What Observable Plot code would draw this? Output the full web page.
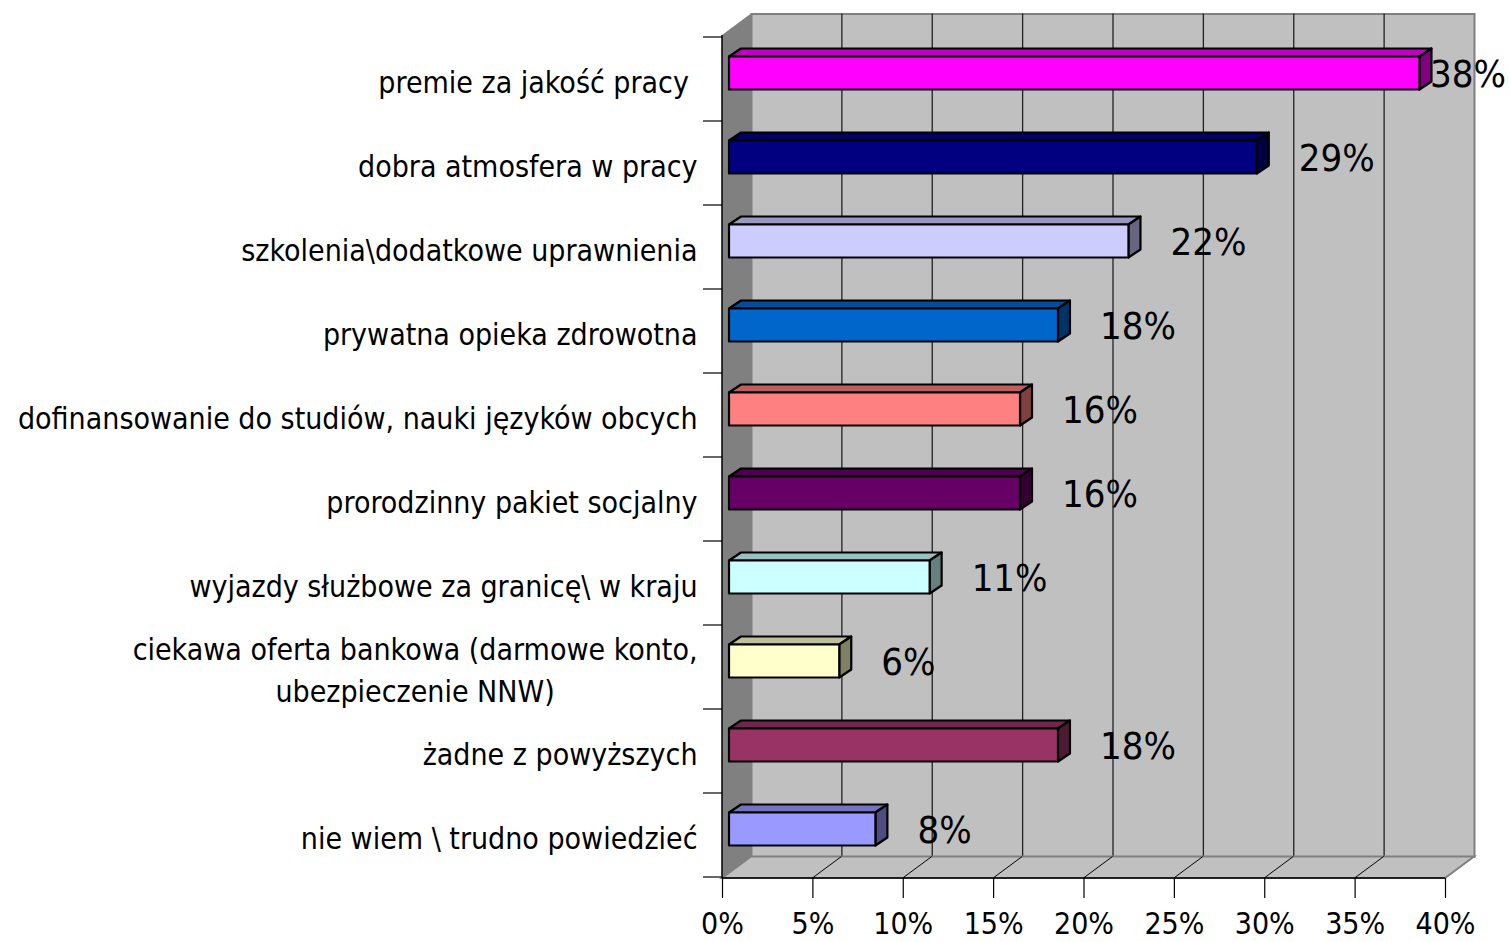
<!DOCTYPE html>
<html><head><meta charset="utf-8">
<script src="https://cdn.jsdelivr.net/npm/d3@7"></script>
<script src="https://cdn.jsdelivr.net/npm/@observablehq/plot@0.6"></script>
<style>body{margin:0;background:#fff} svg{display:block}</style>
</head><body>
<script>
const categories = [
  "premie za jakość pracy\u00a0",
  "dobra atmosfera w pracy",
  "szkolenia\\dodatkowe uprawnienia",
  "prywatna opieka zdrowotna",
  "dofinansowanie do studiów, nauki języków obcych",
  "prorodzinny pakiet socjalny",
  "wyjazdy służbowe za granicę\\ w kraju",
  "ciekawa oferta bankowa (darmowe konto,\nubezpieczenie NNW)",
  "żadne z powyższych",
  "nie wiem \\ trudno powiedzieć"
];
const values = [38.2, 29.2, 22.1, 18.2, 16.1, 16.1, 11.1, 6.1, 18.2, 8.1];
const colors = ["#FF00FF","#000080","#CCCCFF","#0066CC","#FF8080","#660066","#CCFFFF","#FFFFCC","#993366","#9999FF"];
const xTicks = [0, 5, 10, 15, 20, 25, 30, 35, 40];

const data = categories.map((c, i) => ({category: c, value: values[i], color: colors[i]}));

const W = 1510, H = 942;
const DX = 29, DY = -21.5;       // depth of the 3D box
const FONT = "'DejaVu Sans Condensed','DejaVu Sans',sans-serif";
const LABEL_FS = 38;
const shade = (c, k) => { const r = d3.rgb(c); return d3.rgb(r.r*k, r.g*k, r.b*k).formatHex(); };

function walls(index, {x, y}, values, dims) {
  const x0 = x(0), x1 = x(40);
  const yT = dims.marginTop, yB = dims.height - dims.marginBottom;
  const g = d3.create("svg:g");
  g.append("path").attr("d", `M${x0},${yT}L${x0+DX},${yT+DY}L${x0+DX},${yB+DY}L${x0},${yB}Z`).attr("fill", "#808080");
  g.append("path").attr("d", `M${x0},${yB}L${x1},${yB}L${x1+DX},${yB+DY}L${x0+DX},${yB+DY}Z`)
    .attr("fill", "#C0C0C0").attr("stroke", "#808080").attr("stroke-width", 2);
  for (const t of xTicks.slice(1, -1)) {
    g.append("line").attr("x1", x(t)).attr("y1", yB).attr("x2", x(t)+DX).attr("y2", yB+DY)
      .attr("stroke", "#000").attr("stroke-width", 1);
  }
  g.append("line").attr("x1", x0).attr("x2", x1).attr("y1", yB).attr("y2", yB).attr("stroke", "#000").attr("stroke-width", 1.5);
  g.append("line").attr("x1", x0).attr("x2", x0).attr("y1", yT).attr("y2", yB).attr("stroke", "#000").attr("stroke-width", 1.5);
  const bw = y.bandwidth();
  const bounds = categories.map(c => y(c)).concat([y(categories[categories.length-1]) + bw]);
  for (const b of bounds) {
    g.append("line").attr("x1", x0 - 19).attr("x2", x0).attr("y1", b).attr("y2", b).attr("stroke", "#000").attr("stroke-width", 1.2);
  }
  return g.node();
}

function bars3d(index, {x, y}) {
  const g = d3.create("svg:g").attr("stroke", "#000").attr("stroke-width", 2.2).attr("stroke-linejoin", "round");
  const ox = 12, oy = -8;
  for (const d of data) {
    const yb = y(d.category);
    const top = yb + 19.5, bot = yb + 52.5;
    const l = x(0) + 7, r = x(d.value) + 7;
    g.append("path").attr("d", `M${l},${top}L${l+ox},${top+oy}L${r+ox},${top+oy}L${r},${top}Z`).attr("fill", shade(d.color, 0.75));
    g.append("path").attr("d", `M${r},${top}L${r+ox},${top+oy}L${r+ox},${bot+oy}L${r},${bot}Z`).attr("fill", shade(d.color, 0.5));
    g.append("rect").attr("x", l).attr("y", top).attr("width", r - l).attr("height", bot - top).attr("fill", d.color);
  }
  return g.node();
}

function valueLabels(index, {x, y}, values, dims) {
  const g = d3.create("svg:g").attr("font-size", LABEL_FS).attr("font-family", FONT)
    .attr("fill", "#000").attr("text-anchor", "start");
  for (const d of data) {
    const txt = Math.round(d.value) + "%";
    const w = LABEL_FS * (0.57 * (txt.length - 1) + 0.86);
    let sx = x(d.value) + 7 + 12 + 30;
    if (sx + w > dims.width - 4) sx = dims.width - 4 - w;
    g.append("text").attr("x", sx).attr("y", y(d.category) + 36).attr("dy", "0.36em").text(txt);
  }
  return g.node();
}

const plot = Plot.plot({
  width: W, height: H,
  marginLeft: 722, marginRight: 65, marginTop: 35, marginBottom: 64,
  x: {domain: [0, 40]},
  y: {type: "band", domain: categories, padding: 0, axis: null},
  style: {fontFamily: FONT, background: "#fff", color: "#000"},
  marks: [
    Plot.frame({fill: "#C0C0C0", stroke: "#808080", strokeWidth: 2, dx: DX, dy: DY}),
    Plot.ruleX(xTicks.slice(1, -1), {dx: DX, dy: DY, stroke: "#222", strokeWidth: 1.3}),
    walls,
    bars3d,
    valueLabels,
    Plot.text(data, {y: "category", text: "category", x: 0, dx: -25, textAnchor: "end", lineHeight: 1.4, fontSize: 30, fill: "#000"}),
    Plot.axisX({ticks: xTicks, tickFormat: d => d + "%", tickSize: 20, tickPadding: 14, fontSize: 30, stroke: "#000", strokeWidth: 1.2})
  ]
});
document.body.append(plot);

// center multi-line category labels as a block (like the spreadsheet)
d3.select(plot).selectAll("text").each(function() {
  const spans = this.querySelectorAll("tspan");
  if (spans.length > 1) {
    let maxW = 0;
    spans.forEach(s => { maxW = Math.max(maxW, s.getComputedTextLength()); });
    this.setAttribute("text-anchor", "middle");
    spans.forEach(s => s.setAttribute("x", -maxW / 2));
  }
});
</script>
</body></html>
